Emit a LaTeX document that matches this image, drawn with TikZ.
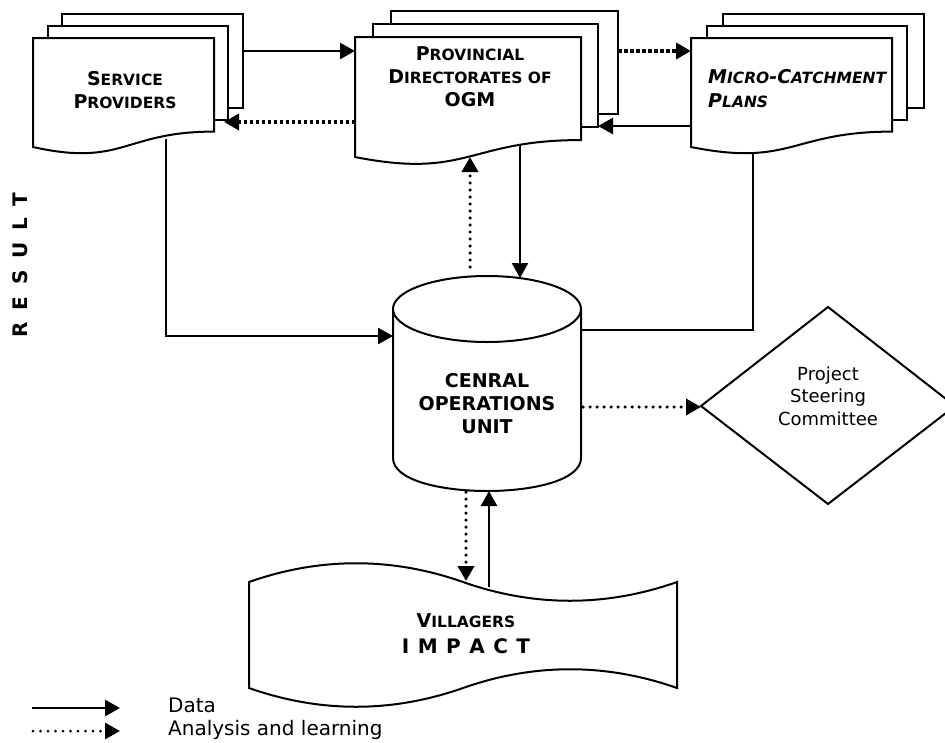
\documentclass[tikz,border=0pt]{standalone}
\usepackage{fontspec}
\setmainfont{DejaVu Sans}
\usetikzlibrary{arrows.meta}
\newcommand\mysc[2]{#1{\fontsize{15.5}{23}\selectfont #2}}
\newcommand\mydoc[4]{\draw[shp] (#1,#2) -- ({#1+#3},#2) -- ({#1+#3},{#2+0.802*#4}) .. controls ({#1+0.5*#3},{#2+0.802*#4}) and ({#1+0.5*#3},{#2+1.107*#4}) .. (#1,{#2+0.934*#4}) -- cycle;}
\begin{document}
\begin{tikzpicture}[x=1pt,y=-1pt,
 shp/.style={draw=black, line width=2pt, fill=white},
 tip/.style={-{Triangle[length=15pt,width=16pt]}},
 dataline/.style={line width=2.5pt, tip},
 plainline/.style={line width=2.5pt},
 sqdots/.style={line width=3.5pt, dash pattern=on 3.5pt off 2.5pt, tip},
 rddots/.style={line width=3.5pt, line cap=round, dash pattern=on 0pt off 7pt, tip},
 boldtxt/.style={font=\fontsize{19}{23}\selectfont\bfseries, inner sep=0pt, align=center, anchor=north},
 plaintxt/.style={font=\fontsize{18}{22.5}\selectfont, inner sep=0pt, align=center, anchor=north},
 legtxt/.style={font=\fontsize{20}{23}\selectfont, inner sep=0pt, anchor=base west}]
\useasboundingbox (0,0) rectangle (945,742);

% Service providers stack
\draw[shp] (62,14) rectangle (243,108);
\draw[shp] (48,26) rectangle (228,120);
\mydoc{33}{38}{181}{116.7}
% Provincial directorates stack
\draw[shp] (391,11) rectangle (618,114);
\draw[shp] (373,24) rectangle (598,127);
\mydoc{355}{37}{226}{128.5}
% Micro-catchment stack
\draw[shp] (723,14) rectangle (924,108);
\draw[shp] (707,26) rectangle (907,120);
\mydoc{691}{38}{201}{116.7}

% Central operations unit (cylinder)
\fill[white] (393,309) -- (393,458) .. controls (393,502) and (581,502) .. (581,458) -- (581,309) -- cycle;
\draw[line width=2pt] (393,309) -- (393,458) .. controls (393,502) and (581,502) .. (581,458) -- (581,309);
\draw[shp] (487,309) ellipse [x radius=94, y radius=33];

% Project steering committee (diamond)
\draw[shp] (701,406) -- (828,307) -- (955,406) -- (828,504) -- cycle;

% Villagers (punched tape)
\draw[shp] (249,582) .. controls (320,557) and (392,557) .. (463,582)
  .. controls (534,607) and (606,607) .. (677,582) -- (677,688)
  .. controls (606,663) and (534,663) .. (463,688)
  .. controls (392,713) and (320,713) .. (249,688) -- cycle;

% texts
\node[boldtxt] (sp) at (125,71.1) {\mysc{S}{ERVICE}\\\mysc{P}{ROVIDERS}};
\node[boldtxt] (pd) at (470,46.1) {\mysc{P}{ROVINCIAL}\\\mysc{D}{IRECTORATES OF}\\OGM};
\node[boldtxt, align=left, anchor=north west, font=\fontsize{19}{24}\selectfont\bfseries\itshape] (mc) at (708,69.1) {\mysc{M}{ICRO}-\mysc{C}{ATCHMENT}\\\mysc{P}{LANS}};
\node[boldtxt] (cou) at (487,373.1) {CENRAL\\OPERATIONS\\UNIT};
\node[plaintxt] (psc) at (828,366.6) {Project\\Steering\\Committee};
\node[boldtxt, font=\fontsize{19}{26}\selectfont\bfseries] (vil) at (466,613.1) {\mysc{V}{ILLAGERS}\\{\fontsize{20}{26}\selectfont I\hspace{8.5pt}M\hspace{8.5pt}P\hspace{8.5pt}A\hspace{8.5pt}C\hspace{8.5pt}T}};
\node[rotate=90, inner sep=0pt, font=\fontsize{20}{24}\selectfont\bfseries] (res) at (20.5,265) {R\hspace{11.8pt}E\hspace{11.8pt}S\hspace{11.8pt}U\hspace{11.8pt}L\hspace{11.8pt}T};

% connection points
\coordinate (spR) at (243,51);
\coordinate (pdL) at (355,51);
\coordinate (pdL2) at (355,122);
\coordinate (spR2) at (224,122);
\coordinate (pdR) at (618,51);
\coordinate (mcL) at (691,51);
\coordinate (mcL2) at (691,126);
\coordinate (pdR2) at (598,126);
\coordinate (spB) at (166,139);
\coordinate (spC) at (166,336);
\coordinate (couL) at (393,336);
\coordinate (pdB) at (520,145);
\coordinate (couT) at (520,278);
\coordinate (couT2) at (470,267);
\coordinate (pdB2) at (470,157);
\coordinate (mcB) at (753,154);
\coordinate (mcC) at (753,330);
\coordinate (couR) at (581,330);
\coordinate (couR2) at (583,407);
\coordinate (pscL) at (701,407);
\coordinate (couB) at (466,492);
\coordinate (vilT) at (466,581);
\coordinate (vilT2) at (489,587);
\coordinate (couB2) at (489,491);

% connectors
\draw[dataline] (spR) -- (pdL);
\draw[sqdots] (pdL2) -- (spR2);
\draw[sqdots] (pdR) -- (mcL);
\draw[dataline] (mcL2) -- (pdR2);
\draw[dataline] (spB) -- (spC) -- (couL);
\draw[dataline] (pdB) -- (couT);
\draw[rddots] (couT2) -- (pdB2);
\draw[plainline] (mcB) -- (mcC) -- (couR);
\draw[rddots] (couR2) -- (pscL);
\draw[rddots] (couB) -- (vilT);
\draw[dataline] (vilT2) -- (couB2);

% legend
\coordinate (lg1a) at (32,708);
\coordinate (lg1b) at (120,708);
\coordinate (lg2a) at (33,731);
\coordinate (lg2b) at (120,731);
\draw[dataline] (lg1a) -- (lg1b);
\draw[rddots, line width=3pt, dash pattern=on 0pt off 7.5pt] (lg2a) -- (lg2b);
\node[legtxt] (ld) at (168,712) {Data};
\node[legtxt] (la) at (168,735) {Analysis and learning};
\end{tikzpicture}
\end{document}
